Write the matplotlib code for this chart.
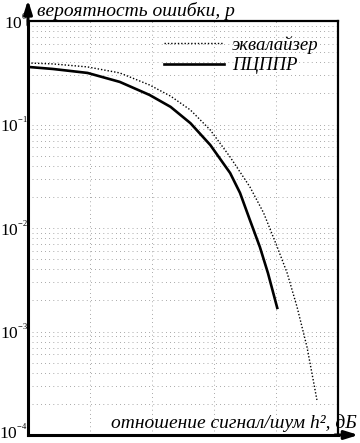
import numpy as np
import matplotlib
matplotlib.use('Agg')
import matplotlib.pyplot as plt
import matplotlib.transforms as mtransforms
from matplotlib.ticker import FixedLocator, FixedFormatter, LogLocator, NullFormatter

plt.rcParams['font.family'] = ['Liberation Serif', 'DejaVu Serif']
plt.rcParams['mathtext.fontset'] = 'custom'
plt.rcParams['mathtext.rm'] = 'Liberation Serif'
plt.rcParams['mathtext.it'] = 'Liberation Serif:italic'

# equalizer curve (dotted)
eq_snr = [0, 2.0, 4.8, 7.4, 9.8, 11.5, 13.1, 14.7, 16.3, 17.9, 19.0, 20.1,
          20.9, 21.7, 22.5, 23.0, 23.3]
eq_p = [0.393, 0.385, 0.360, 0.315, 0.241, 0.188, 0.138, 0.0885, 0.0485,
        0.0249, 0.0140, 0.00655, 0.00367, 0.00172, 0.000708, 0.000340, 0.000218]

# PCPPR curve (solid)
pc_snr = [0, 2.0, 4.8, 7.4, 9.8, 11.5, 13.1, 14.7, 16.3, 17.1, 17.9, 18.7,
          19.35, 20.1]
pc_p = [0.360, 0.344, 0.315, 0.258, 0.193, 0.148, 0.103, 0.0634, 0.0340,
        0.0218, 0.0119, 0.00655, 0.00367, 0.00169]

ytick_vals = [1e-4, 1e-3, 1e-2, 1e-1, 1e0]
ytick_text = [r'$\mathregular{10^{^{-4}}}$', r'$\mathregular{10^{^{-3}}}$',
              r'$\mathregular{10^{^{-2}}}$', r'$\mathregular{10^{^{-1}}}$',
              r'$\mathregular{10^{^{0}}}$']
xtick_vals = [0, 5, 10, 15, 20, 25]

fig = plt.figure(figsize=(3.6, 4.43), dpi=100)
ax = fig.add_axes([28/360, 1 - 435/443, 310/360, 414/443])

ax.plot(eq_snr, eq_p, color='k', lw=1.0, linestyle=(0, (1, 1.4)), label='эквалайзер')
ax.plot(pc_snr, pc_p, color='k', lw=1.9, label='ПЦППР')

ax.set_yscale('log')
ax.set_xlim(0, 25)
ax.set_ylim(1e-4, 1e0)
ax.yaxis.set_major_locator(FixedLocator(ytick_vals))
ax.yaxis.set_major_formatter(FixedFormatter(ytick_text))
ax.yaxis.set_minor_locator(LogLocator(base=10, subs=np.arange(2, 10)))
ax.yaxis.set_minor_formatter(NullFormatter())
ax.set_xticks(xtick_vals)
ax.set_xticklabels([])
ax.tick_params(axis='both', which='both', length=0)
ax.tick_params(axis='y', labelsize=12.5, pad=0)

gs = dict(color='0.35', lw=0.5, linestyle=(0, (1, 5)))
ax.grid(True, which='major', axis='both', **gs)
ax.grid(True, which='minor', axis='y', **gs)

for s in ['left', 'bottom']:
    ax.spines[s].set_linewidth(2.2)
for s in ['top', 'right']:
    ax.spines[s].set_linewidth(1.6)

# arrows on the axes
ax.annotate('', xy=(0, 1.051), xytext=(0, 0.99), xycoords='axes fraction',
            arrowprops=dict(arrowstyle='-|>,head_length=0.8,head_width=0.25', lw=2.2, color='k',
                            shrinkA=0, shrinkB=0))
ax.annotate('', xy=(1.066, 0), xytext=(0.99, 0), xycoords='axes fraction',
            arrowprops=dict(arrowstyle='-|>,head_length=0.8,head_width=0.25', lw=2.2, color='k',
                            shrinkA=0, shrinkB=0))

ax.set_ylabel('вероятность ошибки, p', rotation='horizontal', ha='left', va='bottom',
              fontsize=14, style='italic')
ax.yaxis.set_label_coords(0.03, 1.003)
ax.set_xlabel('отношение сигнал/шум h², дБ', ha='right', va='bottom',
              fontsize=14, style='italic')
ax.xaxis.set_label_coords(1.062, 0.008)

ax.legend(loc='upper left', bbox_to_anchor=(0.44, 0.965), frameon=False,
          prop=dict(family='Liberation Serif', style='italic', size=13.5),
          handlelength=3.2, handletextpad=0.4, borderpad=0, borderaxespad=0,
          labelspacing=0.2)

# nudge the bottom tick label up so it stays inside the figure
fig.canvas.draw()
lbl = ax.get_yticklabels()[0]
lbl.set_transform(lbl.get_transform() +
                  mtransforms.ScaledTranslation(0, 3/72, fig.dpi_scale_trans))

plt.savefig('out.png', dpi=100)
